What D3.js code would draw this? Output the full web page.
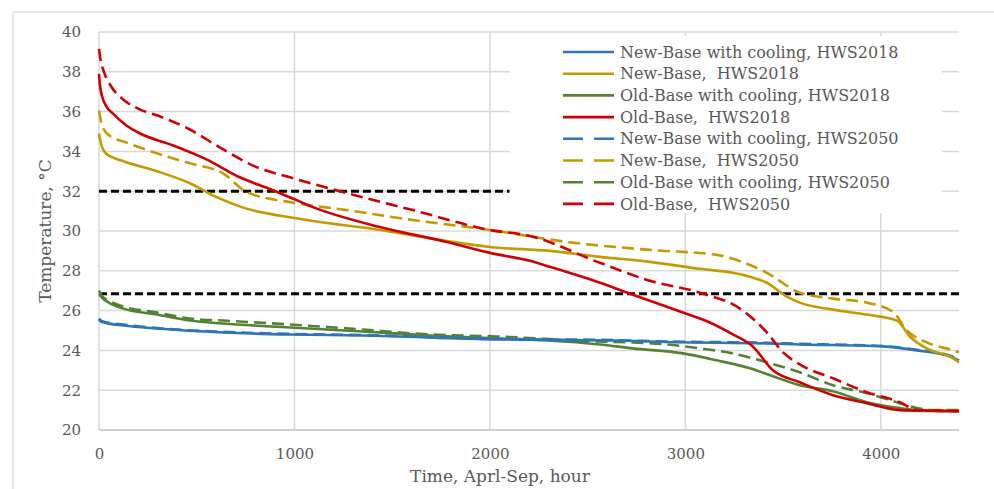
<!DOCTYPE html>
<html>
<head>
<meta charset="utf-8">
<script src="https://cdn.jsdelivr.net/npm/d3@7"></script>
<style>
  body { margin: 0; background: #fff; }
  text { font-family: "DejaVu Serif", serif; fill: #595959; white-space: pre; }
</style>
</head>
<body>
<script>
// legend labels, in legend order
const labels = [
  "New-Base with cooling, HWS2018",
  "New-Base,  HWS2018",
  "Old-Base with cooling, HWS2018",
  "Old-Base,  HWS2018",
  "New-Base with cooling, HWS2050",
  "New-Base,  HWS2050",
  "Old-Base with cooling, HWS2050",
  "Old-Base,  HWS2050"
];

// [hour, temperature] pairs
const newCool2018 = [[0,25.55],[10,25.45],[40,25.37],[125,25.25],[297,25.1],[635,24.9],[977,24.8],[1350,24.75],[2035,24.55],[2630,24.5],[2900,24.42],[3417,24.35],[3585,24.3],[4010,24.2],[4185,24.0],[4352,23.7],[4400,23.5]];
const newBase2018 = [[0,34.9],[10,34.4],[30,33.95],[70,33.7],[125,33.5],[297,33.0],[465,32.4],[602,31.7],[730,31.2],[1000,30.65],[1095,30.5],[1437,30.05],[1780,29.5],[2000,29.2],[2307,29.0],[2563,28.7],[2818,28.45],[3074,28.1],[3243,27.9],[3330,27.7],[3417,27.4],[3519,26.7],[3585,26.4],[3755,26.05],[3928,25.8],[4082,25.5],[4148,24.7],[4235,24.1],[4370,23.6],[4400,23.4]];
const oldCool2018 = [[0,26.85],[15,26.65],[50,26.4],[125,26.1],[297,25.8],[465,25.5],[635,25.35],[977,25.15],[1350,24.95],[1693,24.75],[2035,24.6],[2300,24.5],[2563,24.3],[2731,24.1],[2987,23.85],[3160,23.5],[3330,23.1],[3448,22.7],[3585,22.25],[3755,21.95],[3928,21.4],[4097,21.1],[4185,21.0],[4400,20.95]];
const oldBase2018 = [[0,37.9],[5,37.3],[15,36.8],[35,36.3],[72,35.9],[140,35.3],[210,34.9],[380,34.3],[550,33.6],[720,32.7],[890,32.05],[1011,31.55],[1095,31.2],[1437,30.2],[1780,29.45],[2000,28.9],[2205,28.5],[2307,28.2],[2563,27.4],[2731,26.8],[2987,25.9],[3125,25.4],[3243,24.8],[3345,24.2],[3448,23.0],[3585,22.4],[3755,21.75],[3928,21.35],[4097,21.0],[4400,20.95]];
const newCool2050 = [[0,25.6],[10,25.5],[40,25.4],[125,25.3],[297,25.12],[635,24.93],[977,24.83],[1350,24.77],[2035,24.58],[2630,24.52],[2900,24.45],[3417,24.38],[3585,24.33],[4010,24.22],[4185,24.03],[4352,23.75],[4400,23.55]];
const newBase2050 = [[0,36.05],[8,35.6],[25,35.1],[60,34.75],[125,34.5],[297,33.9],[465,33.4],[635,32.9],[757,31.95],[1011,31.4],[1268,31.05],[1606,30.55],[2000,30.05],[2394,29.45],[2818,29.05],[3160,28.8],[3243,28.6],[3417,27.9],[3585,26.9],[3755,26.6],[3928,26.4],[4061,25.95],[4133,25.0],[4235,24.4],[4370,24.0],[4400,23.9]];
const oldCool2050 = [[0,27.0],[15,26.75],[50,26.5],[125,26.2],[297,25.9],[465,25.6],[635,25.5],[977,25.3],[1350,25.05],[1693,24.8],[2035,24.7],[2547,24.45],[2731,24.4],[2900,24.3],[3074,24.1],[3243,23.85],[3417,23.4],[3585,22.9],[3755,22.25],[3928,21.85],[4097,21.35],[4185,21.1],[4266,21.0],[4400,21.0]];
const oldBase2050 = [[0,39.15],[8,38.6],[25,38.0],[60,37.3],[125,36.6],[200,36.15],[300,35.8],[465,35.1],[635,34.1],[808,33.2],[977,32.7],[1270,31.9],[1606,31.05],[2000,30.05],[2205,29.75],[2563,28.4],[2818,27.5],[3074,26.9],[3279,26.1],[3417,24.9],[3500,23.9],[3585,23.3],[3755,22.6],[3928,21.9],[4097,21.4],[4185,21.0],[4400,20.95]];

// threshold lines: [from hour, to hour, temperature]
const limits = [[0, 2100, 32], [0, 4400, 26.85]];

const xTicks = [0, 1000, 2000, 3000, 4000];
const yTicks = [20, 22, 24, 26, 28, 30, 32, 34, 36, 38, 40];

const W = 994, H = 489;
const plot = { left: 99, right: 959, top: 32, bottom: 430 };

const series = [
  { data: newCool2018, color: "#2E75B6", dash: null },
  { data: newBase2018, color: "#C49A00", dash: null },
  { data: oldCool2018, color: "#548235", dash: null },
  { data: oldBase2018, color: "#D10000", dash: null },
  { data: newCool2050, color: "#2E75B6", dash: "12,6" },
  { data: newBase2050, color: "#C49A00", dash: "12,6" },
  { data: oldCool2050, color: "#548235", dash: "12,6" },
  { data: oldBase2050, color: "#D10000", dash: "12,6" }
];

const svg = d3.select("body").append("svg")
  .attr("width", W)
  .attr("height", H);

// outer chart border
svg.append("rect")
  .attr("x", 13).attr("y", 12)
  .attr("width", W + 10).attr("height", H + 10)
  .attr("fill", "none")
  .attr("stroke", "#d9d9d9")
  .attr("stroke-width", 1.2);

const x = d3.scaleLinear().domain([0, 4400]).range([plot.left, plot.right]);
const y = d3.scaleLinear().domain([20, 40]).range([plot.bottom, plot.top]);

// gridlines
const grid = svg.append("g");
grid.selectAll("line.h").data(yTicks).join("line")
  .attr("x1", plot.left).attr("x2", plot.right)
  .attr("y1", d => y(d)).attr("y2", d => y(d))
  .attr("stroke", d => d === 20 ? "#bfbfbf" : "#d9d9d9")
  .attr("stroke-width", 1.5);
grid.selectAll("line.v").data(xTicks).join("line")
  .attr("x1", d => x(d)).attr("x2", d => x(d))
  .attr("y1", plot.top).attr("y2", plot.bottom)
  .attr("stroke", "#d9d9d9")
  .attr("stroke-width", 1.5);

// axes (labels only)
const yAxis = svg.append("g")
  .attr("transform", `translate(${plot.left - 18},0)`)
  .call(d3.axisLeft(y).tickValues(yTicks).tickSize(0).tickPadding(0));
const xAxis = svg.append("g")
  .attr("transform", `translate(0,${plot.bottom + 18})`)
  .call(d3.axisBottom(x).tickValues(xTicks).tickFormat(d3.format("d")).tickSize(0).tickPadding(0));
[yAxis, xAxis].forEach(a => {
  a.select(".domain").remove();
  a.selectAll("text")
    .style("font-family", "'DejaVu Serif', serif")
    .style("font-size", "15px")
    .attr("fill", "#595959");
});
xAxis.selectAll("text").attr("dy", "0.71em");

svg.append("text")
  .attr("x", 500)
  .attr("y", 482)
  .attr("text-anchor", "middle")
  .style("font-size", "17px")
  .text("Time, Aprl-Sep, hour");

svg.append("text")
  .attr("transform", `translate(51,${(plot.top + plot.bottom) / 2}) rotate(-90)`)
  .attr("text-anchor", "middle")
  .style("font-size", "17px")
  .text("Temperature, °C");

// threshold lines
svg.append("g").selectAll("line").data(limits).join("line")
  .attr("x1", d => x(d[0])).attr("x2", d => x(d[1]))
  .attr("y1", d => y(d[2])).attr("y2", d => y(d[2]))
  .attr("stroke", "#000")
  .attr("stroke-width", 3)
  .attr("stroke-dasharray", "8,4");

// legend background hides the gridlines behind it
const legend = { x: 510, y: 36, w: 432, h: 177, row: 21.7 };
svg.append("rect")
  .attr("x", legend.x).attr("y", legend.y)
  .attr("width", legend.w).attr("height", legend.h)
  .attr("fill", "#fff");

// series
const line = d3.line()
  .x(d => x(d[0]))
  .y(d => y(d[1]))
  .curve(d3.curveMonotoneX);

const drawOrder = [2, 6, 0, 4, 1, 5, 3, 7];
svg.append("g").selectAll("path").data(drawOrder.map(i => series[i])).join("path")
  .attr("d", s => line(s.data))
  .attr("fill", "none")
  .attr("stroke", s => s.color)
  .attr("stroke-width", 2.6)
  .attr("stroke-dasharray", s => s.dash);

// legend entries
const lg = svg.append("g");
series.forEach((s, i) => {
  const yy = 52 + i * legend.row;
  lg.append("line")
    .attr("x1", 563).attr("x2", 614)
    .attr("y1", yy).attr("y2", yy)
    .attr("stroke", s.color)
    .attr("stroke-width", 2.6)
    .attr("stroke-dasharray", s.dash ? "20,11" : null);
  lg.append("text")
    .attr("x", 620).attr("y", yy)
    .attr("dy", "0.35em")
    .attr("xml:space", "preserve")
    .style("font-size", "16px")
    .text(labels[i]);
});
</script>
</body>
</html>
